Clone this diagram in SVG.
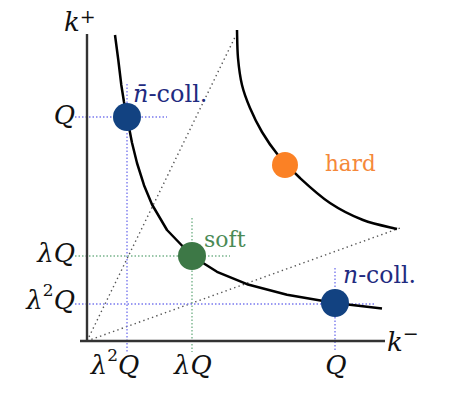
<svg xmlns="http://www.w3.org/2000/svg" width="451" height="395" viewBox="0 0 451 395">
<style>
.axis{stroke:#333;stroke-width:2.4;fill:none}
.curve{stroke:#000;stroke-width:2.5;fill:none;stroke-linejoin:round;stroke-linecap:butt}
.diag{stroke:#555;stroke-width:1.4;stroke-dasharray:1.4 3.2;fill:none}
.bdot{stroke:#7a7aee;stroke-width:1.4;stroke-dasharray:1.5 2;fill:none}
.gdot{stroke:#78b48c;stroke-width:1.4;stroke-dasharray:1.5 2;fill:none}
text{font-family:"DejaVu Serif",serif}
.math{font-style:italic;font-size:26px;fill:#111}
.sup{font-style:normal}
</style>
<rect width="451" height="395" fill="#fff"/>
<g id="connectors">
<line class="diag" x1="87" y1="341" x2="236" y2="35"/>
<line class="diag" x1="87" y1="341" x2="400" y2="228"/>
<line class="bdot" x1="75" y1="117" x2="167" y2="117"/>
<line class="bdot" x1="127" y1="84" x2="127" y2="352"/>
<line class="gdot" x1="75" y1="256" x2="230" y2="256"/>
<line class="gdot" x1="192" y1="218" x2="192" y2="352"/>
<line class="bdot" x1="75" y1="304" x2="376" y2="304"/>
<line class="bdot" x1="335" y1="268" x2="335" y2="352"/>
<path class="curve" d="M115,35 L118.3,60 L121.3,85 L124,102 L127,117 L132,142.7 L137,163 L144,185.2 L152,204.5 L167,230 L192,256 L217,271.8 L247,284.2 L287,294.8 L335,303 L382,308.4"/>
<path class="curve" d="M237,30 C237.17,34.67 237.17,48.83 238,58 C238.83,67.17 240,76.67 242,85 C244,93.33 246.67,100.17 250,108 C253.33,115.83 257.33,124.17 262,132 C266.67,139.83 271.67,147.33 278,155 C284.33,162.67 291.33,170 300,178 C308.67,186 319.5,196 330,203 C340.5,210 351.83,215.67 363,220 C374.17,224.33 391.33,227.5 397,229"/>
</g>
<g id="axes">
<line class="axis" x1="87" y1="34" x2="87" y2="341"/>
<line class="axis" x1="80" y1="341" x2="385" y2="341"/>
<text class="math" x="64" y="31">k<tspan class="sup" font-size="19" dx="0" dy="-8">+</tspan></text>
<text class="math" x="387" y="351">k<tspan class="sup" font-size="19" dx="0" dy="-11">−</tspan></text>
<text class="math" x="75" y="124" text-anchor="end">Q</text>
<text class="math" x="75" y="262" text-anchor="end">λQ</text>
<text class="math" x="75" y="309" text-anchor="end">λ<tspan class="sup" font-size="17" dy="-13">2</tspan><tspan dy="13">Q</tspan></text>
<text class="math" x="115" y="374" text-anchor="middle">λ<tspan class="sup" font-size="17" dy="-13">2</tspan><tspan dy="13">Q</tspan></text>
<text class="math" x="193" y="374" text-anchor="middle">λQ</text>
<text class="math" x="336" y="374" text-anchor="middle">Q</text>
</g>
<g id="nbar-coll">
<circle cx="127" cy="117" r="14" fill="#124281"/>
<text x="133" y="102" font-size="24" fill="#1f2b80"><tspan font-style="italic">n̄</tspan>-coll.</text>
</g>
<g id="soft">
<circle cx="192" cy="256" r="14" fill="#3d7846"/>
<text x="204" y="247" font-size="22" fill="#4a8a55">soft</text>
</g>
<g id="hard">
<circle cx="285" cy="165" r="13" fill="#fb8125"/>
<text x="325" y="171" font-size="21.5" fill="#f5883a">hard</text>
</g>
<g id="n-coll">
<circle cx="335" cy="303" r="14" fill="#124281"/>
<text x="343" y="283" font-size="23.5" fill="#1f2b80"><tspan font-style="italic">n</tspan>-coll.</text>
</g>
</svg>
